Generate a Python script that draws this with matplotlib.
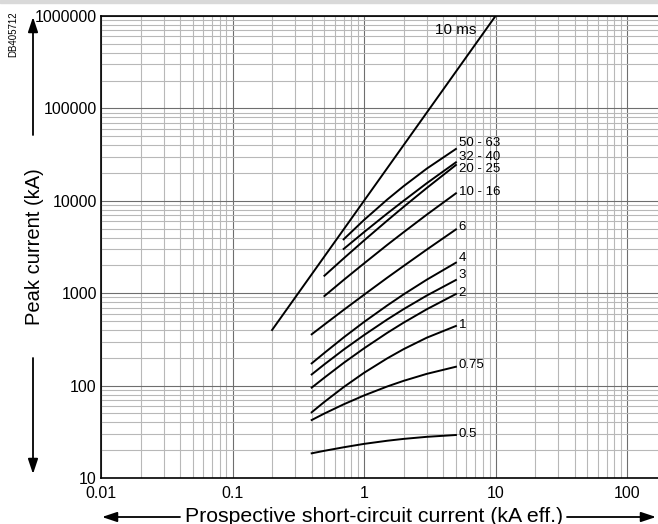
import matplotlib
matplotlib.use("Agg")
import matplotlib.pyplot as plt
from matplotlib.patches import Rectangle
from matplotlib.ticker import LogLocator, NullFormatter

plt.rcParams["font.family"] = ["Liberation Sans", "DejaVu Sans"]

# prospective current (kA eff.) / peak current (kA) per rating (A)
curve_names = ["50 - 63", "32 - 40", "20 - 25", "10 - 16", "6", "4", "3", "2", "1", "0.75", "0.5"]
x_from_07 = [0.7, 1, 1.5, 2, 3, 5]
x_from_05 = [0.5, 0.7, 1, 1.5, 2, 3, 5]
x_from_04 = [0.4, 0.5, 0.7, 1, 1.5, 2, 3, 5]
curve_x = [x_from_07, x_from_07, x_from_05, x_from_05,
           x_from_04, x_from_04, x_from_04, x_from_04, x_from_04, x_from_04, x_from_04]
curve_y = [
    [3830, 6200, 10300, 14400, 22300, 36400],
    [3010, 4580, 7280, 10000, 15500, 26100],
    [1546, 2380, 3720, 6100, 8600, 13760, 24400],
    [932, 1390, 2100, 3330, 4570, 7080, 12050],
    [359, 458, 659, 962, 1470, 1970, 2965, 4900],
    [174, 226, 332, 488, 736, 971, 1400, 2140],
    [132, 170, 245, 352, 519, 672, 943, 1390],
    [95, 122, 176, 253, 372, 480, 670, 980],
    [51.4, 66.7, 96.3, 137.5, 197, 248, 330, 442],
    [42.4, 49.9, 62.7, 78.2, 97.8, 112.6, 134, 160],
    [18.5, 19.7, 21.5, 23.4, 25.3, 26.5, 27.9, 29.2],
]
# label offsets from curve end (points)
label_dy = [4.5, 3.5, -3, 1, 2, 3.5, 3.5, 0.5, 0.5, 1, 1]

ms10_x = [0.2, 1, 10]
ms10_y = [400, 10000, 1000000]

y_ticks = [10, 100, 1000, 10000, 100000, 1000000]
x_ticks = [0.01, 0.1, 1, 10, 100]
x_labels = ["0.01", "0.1", "1", "10", "100"]

W, H = 658, 524
fig = plt.figure(figsize=(W / 100, H / 100), dpi=100)
fig.patches.append(Rectangle((0, 1 - 3 / H), 1, 3 / H, transform=fig.transFigure,
                             color="#d9d9d9", zorder=0))

ax = fig.add_axes([101 / W, 46 / H, 1 - 101 / W, 462 / H])
ax.set_xscale("log")
ax.set_yscale("log")
ax.set_xlim(0.01, 172)
ax.set_ylim(10, 1e6)

ax.xaxis.set_minor_locator(LogLocator(base=10, subs=range(2, 10), numticks=20))
ax.yaxis.set_minor_locator(LogLocator(base=10, subs=range(2, 10), numticks=20))
ax.xaxis.set_minor_formatter(NullFormatter())
ax.yaxis.set_minor_formatter(NullFormatter())
ax.set_xticks(x_ticks, x_labels)
ax.set_yticks(y_ticks, [str(v) for v in y_ticks])
ax.tick_params(which="both", length=0, labelsize=11.5)
ax.tick_params(axis="y", pad=3)
ax.tick_params(axis="x", pad=6)

ax.grid(True, which="major", color="#6e6e6e", lw=0.8)
ax.grid(True, which="minor", color="#b8b8b8", lw=0.8)
ax.set_axisbelow(True)

for s in ["left", "bottom", "top"]:
    ax.spines[s].set_color("black")
    ax.spines[s].set_linewidth(1.2)
ax.spines["right"].set_visible(False)

ax.plot(ms10_x, ms10_y, color="black", lw=1.4)
ax.text(7.2, 7.0e5, "10 ms", fontsize=11, ha="right", va="center")

for name, xs, ys, dy in zip(curve_names, curve_x, curve_y, label_dy):
    ax.plot(xs, ys, color="black", lw=1.4)
    ax.annotate(name, (xs[-1], ys[-1]), xytext=(2, dy), textcoords="offset points",
                fontsize=9.5, ha="left", va="center")

# axis titles with arrows (figure pixels, origin bottom-left)
fig.text(35 / W, 1 - 247 / H, "Peak current (kA)", rotation=90, fontsize=14.5,
         ha="center", va="center")
fig.text(374 / W, 1 - 516 / H, "Prospective short-circuit current (kA eff.)",
         fontsize=15.3, ha="center", va="center")
arrow = dict(arrowstyle="-|>,head_length=0.9,head_width=0.3", color="black", lw=1.3,
             shrinkA=0, shrinkB=0)
ax.annotate("", xy=(33, H - 17), xytext=(33, H - 135), xycoords="figure pixels",
            textcoords="figure pixels", arrowprops=arrow)
ax.annotate("", xy=(33, H - 474), xytext=(33, H - 358), xycoords="figure pixels",
            textcoords="figure pixels", arrowprops=arrow)
ax.annotate("", xy=(102, H - 517), xytext=(180, H - 517), xycoords="figure pixels",
            textcoords="figure pixels", arrowprops=arrow)
ax.annotate("", xy=(656, H - 517), xytext=(567, H - 517), xycoords="figure pixels",
            textcoords="figure pixels", arrowprops=arrow)

fig.text(13 / W, 1 - 34 / H, "DB405712", rotation=90, fontsize=7, ha="center", va="center")

fig.savefig("out.png", dpi=100)
